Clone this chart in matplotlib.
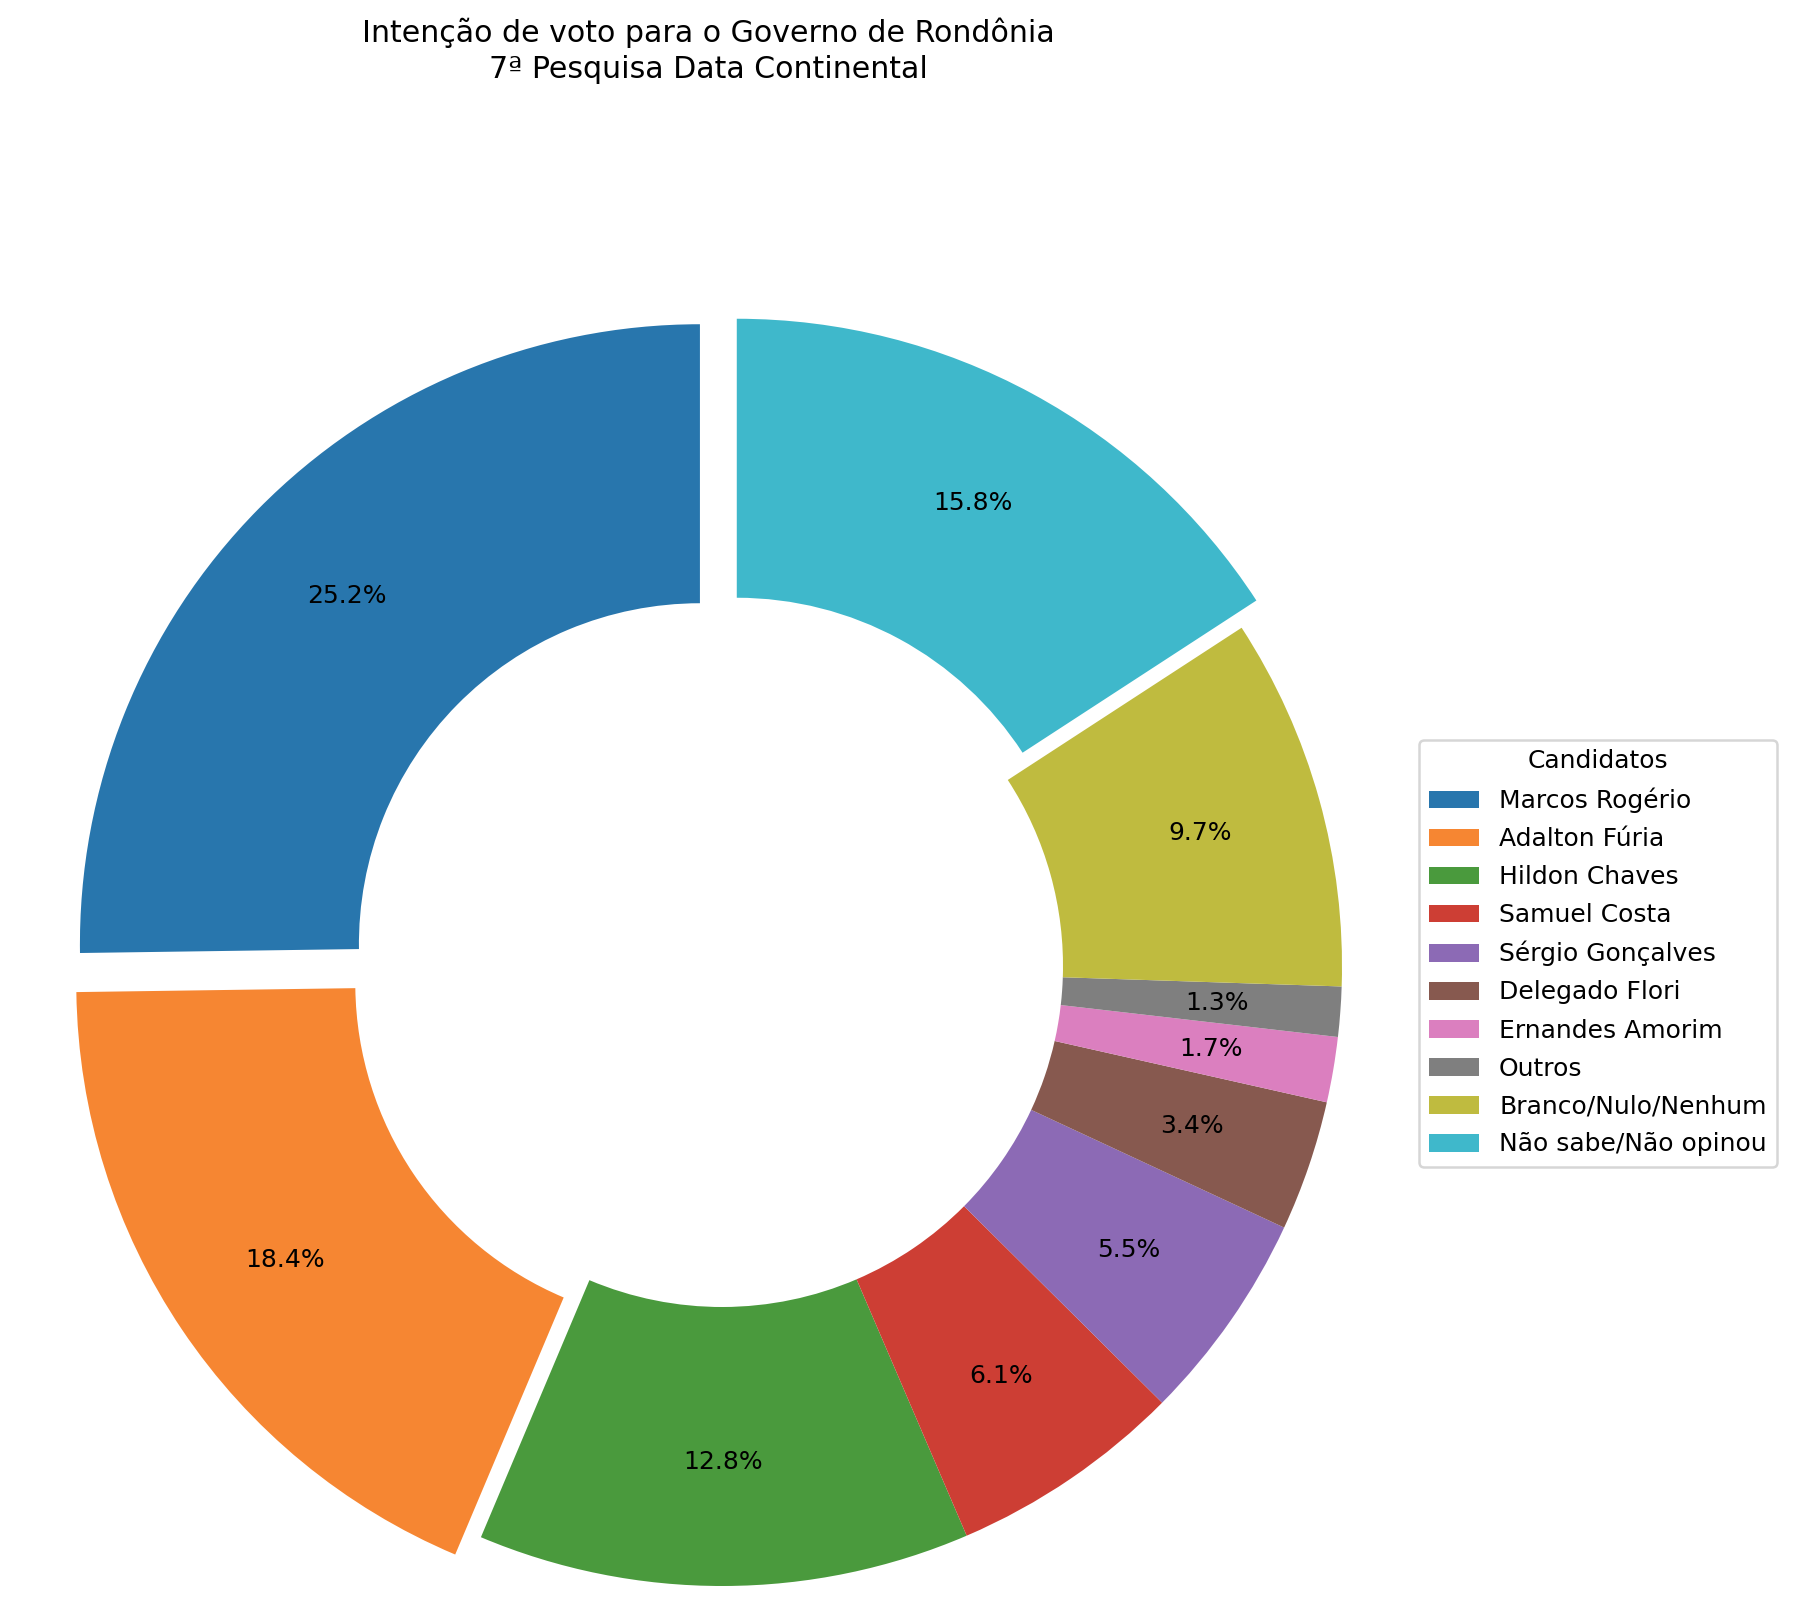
import matplotlib
matplotlib.use("Agg")
import matplotlib.pyplot as plt

# dados da pesquisa
candidatos = ['Marcos Rogério', 'Adalton Fúria', 'Hildon Chaves', 'Samuel Costa',
              'Sérgio Gonçalves', 'Delegado Flori', 'Ernandes Amorim', 'Outros',
              'Branco/Nulo/Nenhum', 'Não sabe/Não opinou']
votos = [25.2, 18.4, 12.8, 6.1, 5.5, 3.4, 1.7, 1.3, 9.7, 15.8]
explode = [0.05, 0.05, 0, 0, 0, 0, 0, 0, 0, 0.05]
cores = ['#2876ad', '#f68632', '#4a9a3d', '#cd3e34', '#8c6ab5',
         '#87594f', '#db7fbf', '#7f7f7f', '#bfbb3f', '#3fb8cb']

W, H, dpi = 1794, 1614, 180
fig = plt.figure(figsize=(W / dpi, H / dpi), dpi=dpi)

# pixel geometry of the donut
cx, cy, R = 722, 966, 620
a, b, c, d = 1.1, 1.055, 1.05, 1.408
ax = fig.add_axes([(cx - a * R) / W, (H - cy - c * R) / H,
                   (a + b) * R / W, (c + d) * R / H])

wedges, texts, autotexts = ax.pie(votos, explode=explode, colors=cores,
                                  autopct='%1.1f%%', startangle=90,
                                  pctdistance=0.8, wedgeprops=dict(width=0.45))
ax.set_xlim(-a, b)
ax.set_ylim(-c, d)
ax.set_title('Intenção de voto para o Governo de Rondônia\n7ª Pesquisa Data Continental',
             linespacing=1.3)

fig.legend(wedges, candidatos, title='Candidatos', loc='center left',
           bbox_to_anchor=(1419 / W, 1 - 953 / H), borderaxespad=0,
           labelspacing=0.56)

fig.savefig('out.png', dpi=dpi)
